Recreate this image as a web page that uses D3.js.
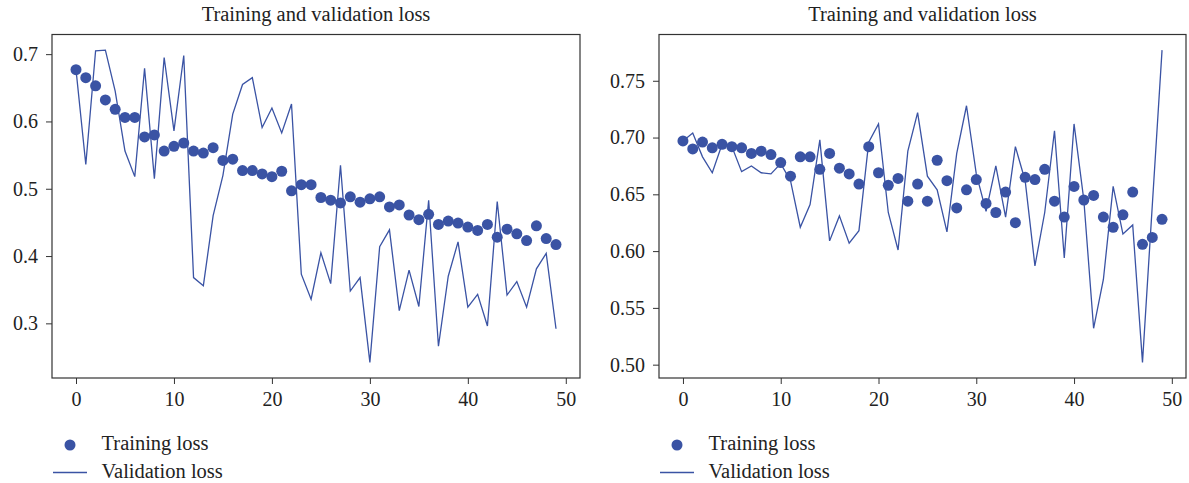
<!DOCTYPE html>
<html>
<head>
<meta charset="utf-8">
<script src="https://cdn.jsdelivr.net/npm/d3@7"></script>
<style>
  body { margin: 0; background: #fff; }
  svg text { font-family: "Liberation Serif", "Times New Roman", serif; fill: #222; }
</style>
</head>
<body>
<div id="chart"></div>
<script>
// left panel
const leftTrain = [0.677, 0.665, 0.653, 0.632, 0.618, 0.606, 0.606, 0.577, 0.580, 0.556,
  0.563, 0.568, 0.556, 0.553, 0.561, 0.542, 0.544, 0.527, 0.527, 0.522,
  0.518, 0.526, 0.497, 0.506, 0.506, 0.487, 0.483, 0.479, 0.488, 0.480,
  0.485, 0.488, 0.473, 0.476, 0.461, 0.454, 0.462, 0.447, 0.452, 0.449,
  0.443, 0.438, 0.447, 0.428, 0.440, 0.433, 0.423, 0.445, 0.426, 0.417];
const leftVal = [0.677, 0.536, 0.705, 0.706, 0.645, 0.556, 0.518, 0.679, 0.515, 0.695,
  0.586, 0.698, 0.368, 0.356, 0.460, 0.520, 0.611, 0.655, 0.665, 0.591,
  0.620, 0.583, 0.626, 0.373, 0.336, 0.405, 0.359, 0.535, 0.348, 0.368,
  0.242, 0.414, 0.439, 0.319, 0.379, 0.325, 0.483, 0.266, 0.370, 0.421,
  0.324, 0.343, 0.296, 0.481, 0.342, 0.362, 0.324, 0.381, 0.404, 0.292];
const leftYTicks = [0.3, 0.4, 0.5, 0.6, 0.7];

// right panel
const rightTrain = [0.697, 0.690, 0.696, 0.691, 0.694, 0.692, 0.691, 0.686, 0.688, 0.685,
  0.678, 0.666, 0.683, 0.683, 0.672, 0.686, 0.673, 0.668, 0.659, 0.692,
  0.669, 0.658, 0.664, 0.644, 0.659, 0.644, 0.680, 0.662, 0.638, 0.654,
  0.663, 0.642, 0.634, 0.652, 0.625, 0.665, 0.663, 0.672, 0.644, 0.630,
  0.657, 0.645, 0.649, 0.630, 0.621, 0.632, 0.652, 0.606, 0.612, 0.628];
const rightVal = [0.697, 0.704, 0.683, 0.669, 0.694, 0.692, 0.670, 0.675, 0.669, 0.668,
  0.677, 0.662, 0.621, 0.641, 0.698, 0.609, 0.631, 0.607, 0.618, 0.696,
  0.712, 0.634, 0.601, 0.688, 0.722, 0.666, 0.654, 0.617, 0.686, 0.728,
  0.668, 0.635, 0.675, 0.630, 0.692, 0.662, 0.587, 0.634, 0.706, 0.594,
  0.712, 0.645, 0.532, 0.575, 0.657, 0.615, 0.623, 0.502, 0.640, 0.777];
const rightYTicks = [0.50, 0.55, 0.60, 0.65, 0.70, 0.75];

const xTicks = [0, 10, 20, 30, 40, 50];
const title = "Training and validation loss";
const legendLabels = ["Training loss", "Validation loss"];

const W = 1189, H = 483;
const blue = "#3a53a4";

const svg = d3.select("#chart").append("svg")
  .attr("width", W).attr("height", H);

function drawPanel(x0, x1, train, val, yTicks, yFmt) {
  const top = 34.5, bottom = 378;
  const n = train.length;
  const pad = (n - 1) * 0.05;
  const x = d3.scaleLinear().domain([-pad, n - 1 + pad]).range([x0, x1]);
  const all = train.concat(val);
  const lo = d3.min(all), hi = d3.max(all);
  const ypad = (hi - lo) * 0.05;
  const y = d3.scaleLinear().domain([lo - ypad, hi + ypad]).range([bottom, top]);

  const g = svg.append("g");

  // axes
  g.append("g")
    .attr("transform", `translate(0,${bottom})`)
    .call(d3.axisBottom(x).tickValues(xTicks).tickSize(6).tickPadding(8).tickFormat(d3.format("d")))
    .call(a => a.select(".domain").remove())
    .call(a => a.selectAll("line").attr("stroke", "#333"))
    .call(a => a.selectAll("text").attr("font-size", 20).attr("fill", "#222"));

  g.append("g")
    .attr("transform", `translate(${x0},0)`)
    .call(d3.axisLeft(y).tickValues(yTicks).tickSize(6).tickPadding(8).tickFormat(d3.format(yFmt)))
    .call(a => a.select(".domain").remove())
    .call(a => a.selectAll("line").attr("stroke", "#333"))
    .call(a => a.selectAll("text").attr("font-size", 20).attr("fill", "#222"));

  // frame
  g.append("rect")
    .attr("x", x0).attr("y", top)
    .attr("width", x1 - x0).attr("height", bottom - top)
    .attr("fill", "none").attr("stroke", "#333").attr("stroke-width", 1.2);

  // validation line
  g.append("path")
    .datum(val)
    .attr("fill", "none")
    .attr("stroke", blue)
    .attr("stroke-width", 1.3)
    .attr("d", d3.line().x((d, i) => x(i)).y(d => y(d)));

  // training dots
  g.append("g").selectAll("circle")
    .data(train)
    .join("circle")
      .attr("cx", (d, i) => x(i))
      .attr("cy", d => y(d))
      .attr("r", 5.5)
      .attr("fill", blue);

  // title
  g.append("text")
    .attr("x", (x0 + x1) / 2).attr("y", 21)
    .attr("text-anchor", "middle")
    .attr("font-size", 20.5)
    .text(title);

  // legend
  const lx = x0;
  g.append("circle").attr("cx", lx + 18).attr("cy", 445).attr("r", 5.5).attr("fill", blue);
  g.append("line")
    .attr("x1", lx + 1).attr("x2", lx + 35)
    .attr("y1", 472.5).attr("y2", 472.5)
    .attr("stroke", blue).attr("stroke-width", 1.3);
  g.append("text").attr("x", lx + 49.5).attr("y", 450).attr("font-size", 20.5).text(legendLabels[0]);
  g.append("text").attr("x", lx + 49.5).attr("y", 477.5).attr("font-size", 20.5).text(legendLabels[1]);
}

drawPanel(52, 580, leftTrain, leftVal, leftYTicks, ".1f");
drawPanel(659, 1186, rightTrain, rightVal, rightYTicks, ".2f");
</script>
</body>
</html>
